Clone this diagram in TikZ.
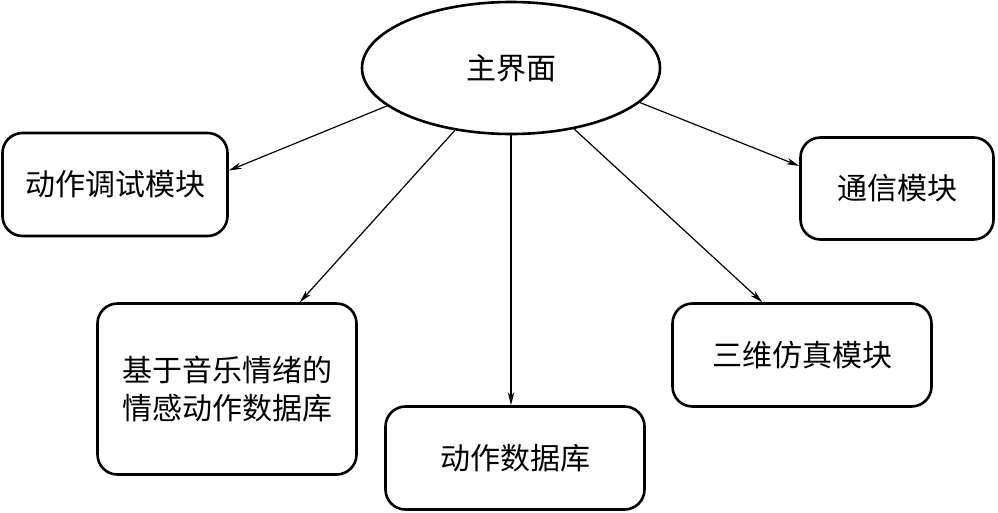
\documentclass[tikz,border=0pt]{standalone}
\usepackage{fontspec}
\newfontfamily\cjk{Noto Sans CJK SC}
\usetikzlibrary{arrows.meta,shapes.geometric}
\begin{document}
\begin{tikzpicture}[x=1pt,y=-1pt,
  box/.style={draw,line width=2.6pt,rounded corners=20pt,inner sep=0pt,align=center,font=\cjk\fontsize{30}{38}\selectfont},
  link/.style={line width=1.2pt,-{Stealth[length=13pt,width=6.5pt]}}]
\useasboundingbox (0,0) rectangle (998,512);
\node[ellipse,draw,line width=2.6pt,minimum width=298pt,minimum height=132pt,inner sep=0pt,font=\cjk\fontsize{30}{38}\selectfont] (main) at (511,68) {主界面};
\node[box,minimum width=225pt,minimum height=103pt] (b1) at (115,184.5) {动作调试模块};
\node[box,minimum width=259pt,minimum height=171pt] (b2) at (227,389) {基于音乐情绪的\\情感动作数据库};
\node[box,minimum width=259pt,minimum height=103pt] (b3) at (515,458) {动作数据库};
\node[box,minimum width=259pt,minimum height=103pt] (b4) at (802,355) {三维仿真模块};
\node[box,minimum width=193pt,minimum height=102pt] (b5) at (897,188.5) {通信模块};
\draw[link] (main.197) -- (b1.7);
\draw[link] (main.228) -- (b2.50);
\draw[link] (main.south) -- (main.south |- b3.north);
\draw[link] (main.-44) -- (b4.127);
\draw[link] (main.-15) -- (b5.167);
\end{tikzpicture}
\end{document}
